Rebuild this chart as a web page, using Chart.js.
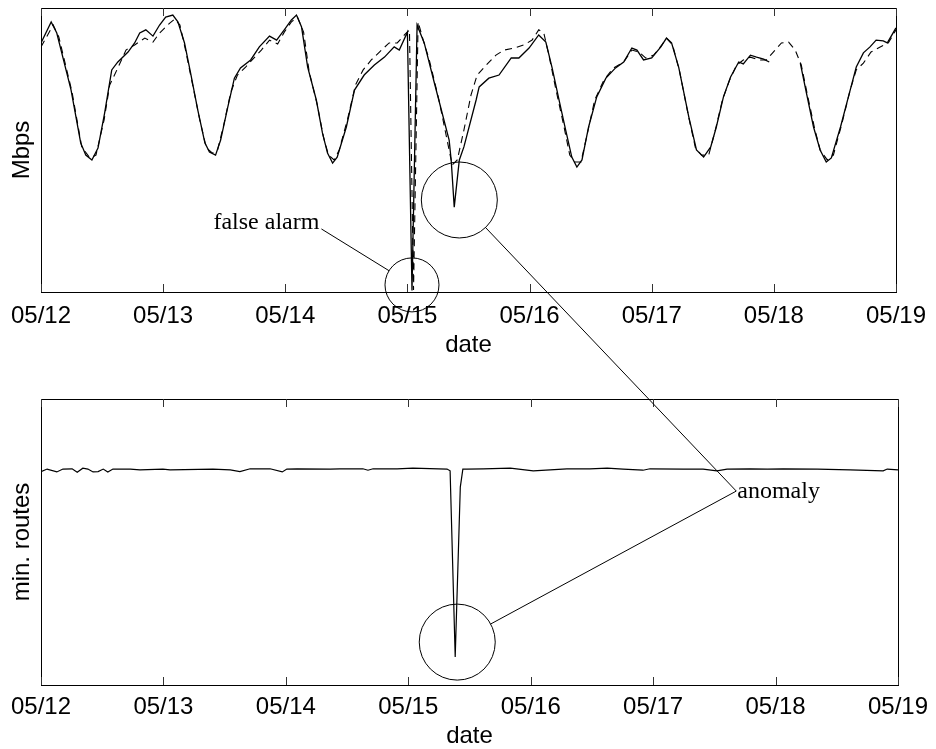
<!DOCTYPE html>
<html>
<head>
<meta charset="utf-8">
<script src="https://cdn.jsdelivr.net/npm/chart.js@4.4.1/dist/chart.umd.min.js"></script>
<style>
  html, body { margin: 0; padding: 0; background: #fff; }
  #wrap { position: relative; width: 936px; height: 749px; }
  canvas { position: absolute; left: 0; }
</style>
</head>
<body>
<div id="wrap">
  <canvas id="top" width="936" height="370" style="top:0"></canvas>
  <canvas id="bottom" width="936" height="379" style="top:370px"></canvas>
  <canvas id="notes" width="936" height="749" style="top:0"></canvas>
</div>
<script>
// x values are hours since 05/12 00:00
const tickLabels = ['05/12', '05/13', '05/14', '05/15', '05/16', '05/17', '05/18', '05/19']

// measured traffic (solid)
const trafficHours = [0, 2.0, 3.1, 5.9, 7.8, 8.8, 10.0, 11.2, 12.5, 13.9, 15.1, 17.1, 18.4, 19.4, 20.6, 22.0, 23.3, 24.5, 25.9, 26.9,
  28.2, 29.4, 30.8, 32.2, 33.1, 34.3, 35.3, 36.7, 38.0, 39.2, 41.2, 42.9, 44.9, 46.3, 47.8, 49.2, 50.2, 51.2, 52.4, 54.1,
  55.3, 56.3, 57.3, 58.2, 60.0, 61.6, 63.5, 65.5, 67.5, 69.4, 70.4, 72.0, 72.9, 73.9, 75.3, 77.3, 80.2, 80.6, 81.2, 82.2,
  83.1, 85.5, 86.1, 88.0, 90.0, 92.4, 93.9, 95.9, 97.8, 99.2, 100.4, 101.8, 103.1, 104.3, 105.3, 106.3, 107.6, 109.2, 111.0, 112.9,
  114.5, 116.1, 117.1, 118.4, 120.0, 121.8, 122.9, 123.9, 125.3, 127.3, 128.8, 130.2, 131.6, 132.7, 134.1, 135.5, 137.1, 138.0, 139.4, 140.6,
  142.0, 143.1, 146.0, 149.2, 150.4, 151.8, 153.1, 154.3, 155.3, 157.1, 159.0, 160.2, 161.6, 162.9, 164.1, 165.5, 166.3, 168.0]
const trafficMbps = [87.7, 95.1, 91.2, 71.2, 52.5, 48.2, 46.5, 50.7, 63.0, 78.2, 81.0, 84.5, 87.7, 91.2, 92.3, 90.1, 94.0, 96.8, 97.5, 95.1,
  87.7, 77.1, 64.1, 52.5, 49.3, 48.2, 53.5, 65.1, 75.3, 78.9, 81.7, 86.3, 90.1, 88.7, 92.3, 95.8, 97.5, 93.3, 79.2, 67.6,
  56.0, 48.9, 45.4, 47.5, 58.1, 71.1, 76.4, 79.9, 82.7, 86.3, 85.2, 91.5, 0.5, 94.0, 87.7, 73.6, 53.5, 46.5, 29.9, 46.5,
  51.1, 67.6, 72.2, 75.3, 76.4, 82.4, 82.4, 85.9, 90.5, 88.0, 79.2, 67.6, 57.0, 47.5, 44.0, 46.5, 58.1, 68.7, 75.3, 78.9,
  81.0, 85.9, 85.2, 81.7, 82.4, 86.3, 89.4, 87.7, 79.2, 61.6, 50.0, 47.5, 51.1, 58.1, 68.7, 75.7, 81.0, 80.3, 83.4, 82.7,
  82.0, 81.0, null, 80.6, 70.1, 58.1, 50.0, 45.8, 47.2, 58.1, 71.1, 79.2, 84.2, 86.3, 88.7, 88.4, 87.7, 93.0]

// predicted traffic (dashed)
const predictHours = [0, 2.4, 3.5, 6.1, 8.0, 9.6, 10.8, 12.4, 13.5, 15.1, 16.7, 18.4, 20.4, 22.0, 23.3, 25.3, 26.3, 27.3, 28.4, 29.8,
  31.2, 32.5, 33.7, 34.7, 35.9, 37.3, 38.6, 40.2, 42.0, 43.3, 44.9, 46.5, 47.8, 49.2, 50.4, 51.6, 52.7, 54.3, 55.5, 56.5,
  57.6, 58.6, 60.2, 61.8, 63.3, 64.9, 66.5, 68.4, 70.0, 71.4, 72.4, 73.2, 74.1, 75.1, 76.3, 78.2, 79.8, 80.8, 81.8, 83.1,
  84.5, 85.7, 87.5, 89.4, 91.0, 93.0, 94.9, 96.5, 97.8, 98.8, 99.8, 101.2, 102.7, 103.9, 104.9, 106.1, 107.3, 108.8, 110.6, 112.5,
  114.5, 116.1, 117.5, 118.8, 120.4, 122.0, 122.9, 124.1, 125.5, 127.3, 128.6, 129.8, 131.2, 132.5, 133.9, 135.3, 136.7, 138.0, 139.4, 141.0,
  142.5, 143.9, 145.5, 146.9, 148.2, 149.4, 150.6, 152.0, 153.1, 154.5, 155.7, 157.3, 159.0, 160.2, 161.6, 163.1, 164.9, 166.5, 168.0]
const predictMbps = [86.3, 94.0, 89.8, 70.4, 51.1, 47.2, 48.2, 60.6, 72.9, 78.9, 85.2, 87.0, 89.4, 88.0, 91.2, 94.7, 96.1, 94.0, 85.2, 72.9,
  60.6, 50.7, 48.9, 50.0, 58.8, 70.4, 76.4, 79.2, 82.7, 85.2, 88.7, 87.3, 91.5, 95.1, 96.8, 91.5, 77.5, 65.8, 54.6, 48.2,
  46.5, 50.0, 60.6, 72.9, 78.2, 81.7, 84.5, 87.7, 87.7, 90.5, 92.3, 0.7, 95.1, 88.7, 81.7, 67.6, 53.5, 44.7, 46.5, 57.0,
  69.4, 76.4, 79.9, 83.4, 85.2, 85.9, 87.0, 88.7, 92.3, 91.2, 83.4, 71.1, 58.8, 48.2, 45.8, 45.8, 55.3, 67.6, 74.6, 78.9,
  81.0, 85.2, 84.5, 82.4, 83.4, 87.0, 89.4, 87.0, 77.5, 61.3, 50.7, 48.2, 48.2, 57.0, 67.6, 74.6, 79.9, 81.7, 82.7, 81.7,
  81.7, 84.5, 87.7, 88.0, 85.2, 79.9, 69.4, 57.7, 50.0, 46.5, 48.2, 58.8, 71.1, 78.2, 80.6, 84.5, 86.3, 87.7, 92.3]

// minimum number of routes
const routeHours = [0, 1.2, 3.1, 4.3, 6.1, 7.1, 8.2, 9.2, 10.2, 11.2, 12.2, 13.1, 14.1, 17.5, 19.4, 23.9, 25.3, 33.7, 37.1, 39.0,
  41.0, 44.9, 47.3, 48.2, 50.2, 56.7, 58.6, 63.1, 64.1, 65.1, 69.8, 72.9, 79.6, 80.2, 81.2, 82.2, 82.7, 83.5, 86.7, 92.0,
  96.5, 99.8, 103.1, 107.6, 111.0, 114.1, 118.0, 119.4, 125.9, 129.8, 132.5, 134.5, 139.0, 142.4, 145.5, 152.2, 158.6, 165.1, 165.9, 168.0]
const routeCounts = [74.6, 75.5, 74.5, 75.5, 75.6, 74.4, 75.8, 75.5, 74.5, 74.6, 75.5, 74.5, 75.5, 75.5, 75.2, 75.5, 75.2, 75.5, 75.2, 74.6,
  75.6, 75.6, 74.5, 75.5, 75.6, 75.5, 75.6, 75.6, 75.1, 75.6, 75.6, 75.8, 75.5, 74.9, 9.8, 69.2, 75.5, 75.5, 75.6, 75.8,
  74.9, 75.2, 75.6, 75.6, 75.8, 75.5, 75.1, 75.6, 75.5, 75.5, 74.9, 75.5, 75.6, 75.5, 75.6, 75.5, 75.2, 74.9, 75.5, 75.2]

// annotation anchors, in data units of their panel
const falseAlarmNote = { hour: 72.9, value: 2.5, tipHour: 55.1, tipValue: 22.2 }
const anomalyTopNote = { hour: 82.2, value: 32.4 }
const anomalyBottomNote = { hour: 81.6, value: 15.0, tipHour: 136.3, tipValue: 67.8 }

Chart.defaults.font.family = '"Liberation Sans", Arial, sans-serif'
Chart.defaults.font.size = 24
Chart.defaults.color = '#000'

const toPoints = (xs, ys) => xs.map((x, i) => ({ x: x, y: ys[i] }))

const framePlugin = {
  id: 'frame',
  afterDraw(chart) {
    const { ctx, chartArea: a, scales } = chart
    ctx.save()
    ctx.strokeStyle = '#000'
    ctx.lineWidth = 1
    ctx.strokeRect(Math.round(a.left) + 0.5, Math.round(a.top) + 0.5,
      Math.round(a.right - a.left), Math.round(a.bottom - a.top))
    ctx.strokeStyle = '#333'
    ctx.beginPath()
    scales.x.ticks.forEach(t => {
      const p = Math.round(scales.x.getPixelForValue(t.value)) + 0.5
      ctx.moveTo(p, a.bottom)
      ctx.lineTo(p, a.bottom - 8)
      ctx.moveTo(p, a.top)
      ctx.lineTo(p, a.top + 8)
    })
    ctx.stroke()
    ctx.restore()
  },
}

function makeChart(id, datasets, yTitle, opts) {
  return new Chart(document.getElementById(id), {
    type: 'line',
    data: { datasets: datasets },
    plugins: [framePlugin],
    options: {
      responsive: false,
      animation: false,
      events: [],
      layout: { padding: { top: opts.padTop, right: 38, bottom: 0, left: 0 } },
      plugins: { legend: { display: false }, tooltip: { enabled: false } },
      elements: { point: { radius: 0 }, line: { tension: 0 } },
      scales: {
        x: {
          type: 'linear',
          min: 0,
          max: 168,
          grid: { display: false, drawTicks: false },
          border: { display: false },
          ticks: {
            stepSize: 24,
            padding: opts.tickPad,
            maxRotation: 0,
            callback: (value) => tickLabels[value / 24],
          },
          title: {
            display: true,
            text: 'date',
            font: { size: 24, lineHeight: 1 },
            padding: { top: 0, bottom: opts.titlePad },
          },
          afterFit: (scale) => { scale.height = opts.axisHeight },
        },
        y: {
          min: 0,
          max: 100,
          grid: { display: false },
          border: { display: false },
          ticks: { display: false },
          title: {
            display: true,
            text: yTitle,
            font: { size: 24, lineHeight: 1 },
            padding: { top: 10, bottom: 0 },
          },
          afterFit: (scale) => { scale.width = 41 },
        },
      },
    },
  })
}

const topChart = makeChart('top', [
  {
    label: 'traffic',
    data: toPoints(trafficHours, trafficMbps),
    borderColor: '#000',
    borderWidth: 1.3,
    spanGaps: false,
  },
  {
    label: 'prediction',
    data: toPoints(predictHours, predictMbps),
    borderColor: '#000',
    borderWidth: 1.1,
    borderDash: [7, 5],
  },
], 'Mbps', { padTop: 8, axisHeight: 78, tickPad: 10, titlePad: 13 })

const bottomChart = makeChart('bottom', [
  {
    label: 'routes',
    data: toPoints(routeHours, routeCounts),
    borderColor: '#000',
    borderWidth: 1.2,
  },
], 'min. routes', { padTop: 29, axisHeight: 64, tickPad: 8, titlePad: 1 })

// annotations across both panels
const notes = document.getElementById('notes').getContext('2d')
const topOffset = 0
const bottomOffset = 370

function toPage(chart, offset, hour, value) {
  return [chart.scales.x.getPixelForValue(hour), offset + chart.scales.y.getPixelForValue(value)]
}

function circle(c, r) {
  notes.beginPath()
  notes.arc(c[0], c[1], r, 0, Math.PI * 2)
  notes.stroke()
}

function leader(from, c, r) {
  const dx = c[0] - from[0]
  const dy = c[1] - from[1]
  const len = Math.sqrt(dx * dx + dy * dy)
  notes.beginPath()
  notes.moveTo(from[0], from[1])
  notes.lineTo(c[0] - dx / len * r, c[1] - dy / len * r)
  notes.stroke()
}

notes.strokeStyle = '#000'
notes.lineWidth = 1
notes.fillStyle = '#000'
notes.font = '24px "Liberation Serif", "Times New Roman", serif'

const faCenter = toPage(topChart, topOffset, falseAlarmNote.hour, falseAlarmNote.value)
const faTip = toPage(topChart, topOffset, falseAlarmNote.tipHour, falseAlarmNote.tipValue)
circle(faCenter, 27)
leader(faTip, faCenter, 27)
notes.textAlign = 'right'
notes.textBaseline = 'alphabetic'
notes.fillText('false alarm', faTip[0] - 2, faTip[1])

const anTop = toPage(topChart, topOffset, anomalyTopNote.hour, anomalyTopNote.value)
const anBottom = toPage(bottomChart, bottomOffset, anomalyBottomNote.hour, anomalyBottomNote.value)
const anTip = toPage(bottomChart, bottomOffset, anomalyBottomNote.tipHour, anomalyBottomNote.tipValue)
circle(anTop, 38)
circle(anBottom, 38)
leader(anTip, anTop, 38)
leader(anTip, anBottom, 38)
notes.textAlign = 'left'
notes.fillText('anomaly', anTip[0] + 1, anTip[1] + 7)
</script>
</body>
</html>
